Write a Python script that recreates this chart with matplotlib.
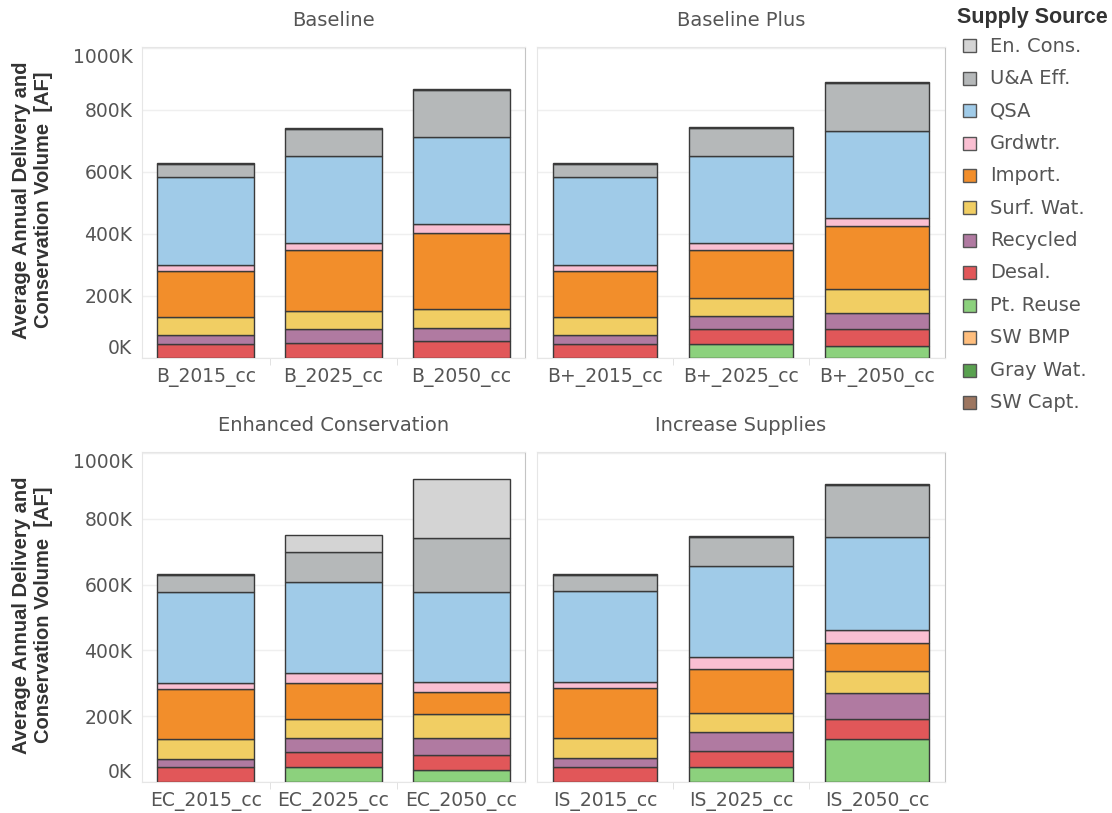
import matplotlib
matplotlib.use("Agg")
import matplotlib.pyplot as plt
from matplotlib.patches import Rectangle

plt.rcParams['font.family'] = ['DejaVu Sans']

W, H = 1112, 813

panels = ["Baseline", "Baseline Plus", "Enhanced Conservation", "Increase Supplies"]
bar_labels = [["B_2015_cc", "B_2025_cc", "B_2050_cc"],
              ["B+_2015_cc", "B+_2025_cc", "B+_2050_cc"],
              ["EC_2015_cc", "EC_2025_cc", "EC_2050_cc"],
              ["IS_2015_cc", "IS_2025_cc", "IS_2050_cc"]]

# values in thousand AF, 12 bars: B, B+, EC, IS (3 each)
sw_capt   = [0, 0, 0,   0, 0, 0,   0, 0, 0,   0, 0, 0]
gray_wat  = [0, 0, 0,   0, 0, 0,   0, 0, 0,   0, 0, 0]
sw_bmp    = [0, 0, 0,   0, 0, 0,   0, 0, 0,   0, 0, 0]
pt_reuse  = [0, 0, 0,   0, 46, 39,  0, 46, 35,  0, 47, 130]
desal     = [44, 49, 54,  44, 47, 53,  45, 46, 48,  45, 46, 61]
recycled  = [29, 45, 44,  29, 42, 52,  25, 43, 52,  27, 60, 80]
surf_wat  = [59, 57, 60,  59, 59, 78,  61, 55, 73,  61, 56, 67]
imported  = [150, 196, 246,  150, 153, 204,  153, 112, 67,  153, 134, 85]
grdwtr    = [19, 25, 28,  19, 25, 26,  18, 29, 28,  18, 36, 40]
qsa       = [282, 281, 281,  282, 281, 280,  277, 277, 276,  277, 278, 281]
ua_eff    = [43, 87, 152,  43, 90, 155,  49, 91, 162,  49, 88, 158]
en_cons   = [3, 3, 3,  3, 3, 3,  3, 52, 180,  3, 3, 3]

# bottom -> top stacking
stack = [("SW Capt.", sw_capt, "#9d7660"),
         ("Gray Wat.", gray_wat, "#59a14f"),
         ("SW BMP", sw_bmp, "#ffbe7d"),
         ("Pt. Reuse", pt_reuse, "#8cd17d"),
         ("Desal.", desal, "#e15759"),
         ("Recycled", recycled, "#b07aa1"),
         ("Surf. Wat.", surf_wat, "#f1ce63"),
         ("Import.", imported, "#f28e2b"),
         ("Grdwtr.", grdwtr, "#fabfd2"),
         ("QSA", qsa, "#a0cbe8"),
         ("U&A Eff.", ua_eff, "#b5b8b9"),
         ("En. Cons.", en_cons, "#d4d4d4")]

def box(x0, y0, x1, y1):
    return [x0 / W, 1 - y1 / H, (x1 - x0) / W, (y1 - y0) / H]

fig = plt.figure(figsize=(W / 100, H / 100), dpi=100)
boxes = [box(142, 47, 525, 358), box(537, 47, 945, 358),
         box(142, 452, 525, 782), box(537, 452, 945, 782)]
title_y = [20, 20, 425, 425]
txt = "#555555"

for p, (name, rect) in enumerate(zip(panels, boxes)):
    ax = fig.add_axes(rect)
    x = [0, 1, 2]
    bottom = [0, 0, 0]
    for label, vals, col in stack:
        v = vals[3 * p:3 * p + 3]
        ax.bar(x, v, 0.76, bottom=bottom, color=col, edgecolor="#3a3a3a", linewidth=1.0, zorder=3)
        bottom = [b + h for b, h in zip(bottom, v)]
    ax.set_xlim(-0.5, 2.5)
    ax.set_ylim(0, 1003)
    ax.set_yticks([0, 200, 400, 600, 800, 1000])
    ax.grid(axis="y", color="#efefef", linewidth=1, zorder=0)
    ax.set_xticks(x)
    ax.set_xticklabels(bar_labels[p], fontsize=13.5, color=txt)
    ax.set_xticks([0.5, 1.5], minor=True)
    ax.tick_params(axis="x", which="major", length=0, pad=7)
    ax.tick_params(axis="x", which="minor", length=5, color="#dddddd")
    ax.tick_params(axis="y", length=0, pad=7, labelsize=13.5, labelcolor=txt)
    if p % 2 == 0:
        ax.set_yticklabels([f"{v}K" for v in [0, 200, 400, 600, 800, 1000]])
        labs = ax.get_yticklabels()
        labs[0].set_va("bottom")
        labs[-1].set_va("top")
    else:
        ax.set_yticklabels([])
    for s in ["left", "top", "bottom"]:
        ax.spines[s].set_color("#e6e6e6")
    ax.spines["right"].set_color("#c4c4c4")
    cx = (rect[0] + rect[2] / 2)
    fig.text(cx, 1 - title_y[p] / H, name, ha="center", va="center", fontsize=14, color=txt)

ylab = "Average Annual Delivery and\nConservation Volume  [AF]"
for cy in [200, 615]:
    fig.text(33 / W, 1 - cy / H, ylab, rotation=90, ha="center", va="center",
             fontsize=14.5, fontweight="bold", family="Liberation Sans", color="#333333",
             multialignment="center", linespacing=1.2)

# legend
fig.text(957 / W, 1 - 18 / H, "Supply Source", ha="left", va="center", fontsize=15.5,
         fontweight="bold", family="Liberation Sans", color="#333333")
for i, (label, vals, col) in enumerate(reversed(stack)):
    yc = 46 + i * 32.4
    fig.patches.append(Rectangle((963 / W, 1 - (yc + 6.5) / H), 13 / W, 13 / H,
                                 transform=fig.transFigure, facecolor=col,
                                 edgecolor="#555555", linewidth=1.0))
    fig.text(990 / W, 1 - yc / H, label, ha="left", va="center", fontsize=14, color=txt)

fig.savefig("out.png", dpi=100)
